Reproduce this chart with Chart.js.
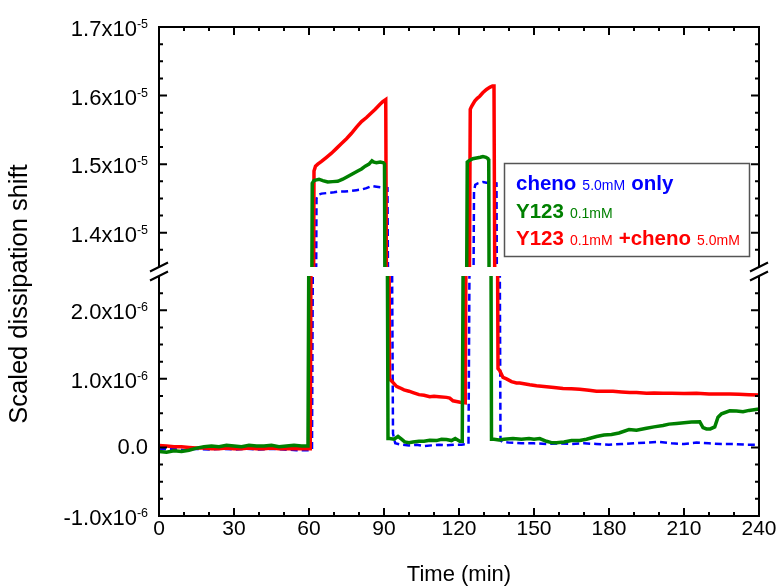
<!DOCTYPE html>
<html>
<head>
<meta charset="utf-8">
<script src="https://cdn.jsdelivr.net/npm/chart.js@4.4.1/dist/chart.umd.min.js"></script>
<style>
  html, body { margin: 0; background: #fff; }
</style>
</head>
<body>
<canvas id="qcm" width="781" height="588"></canvas>
<script>
// time in minutes, dissipation shift in units of 1e-6
const timeCheno = [0,5,10,15,20,25,30,35,40,45,50,55,60,61.2,
  63.0,63.6,65,67.6,70,72,74.3,77,79,81,83,85,87,89,91.4,
  93.6,94.5,97,100,103,106,109,112,115,118,121,123.8,
  126.0,126.5,127.5,129.6,131,133,135,
  136.6,137.5,140,145,150,155,160,165,170,175,180,185,190,195,200,205,210,215,220,225,230,235,240];
const shiftCheno = [-0.03,-0.02,-0.04,-0.02,-0.03,-0.02,-0.03,-0.02,-0.03,-0.02,-0.03,-0.04,-0.04,-0.03,
  14.50,14.55,14.57,14.58,14.59,14.60,14.60,14.61,14.62,14.63,14.65,14.68,14.67,14.66,14.65,
  0.20,0.06,0.04,0.03,0.04,0.02,0.03,0.04,0.03,0.04,0.04,0.05,
  14.60,14.70,14.72,14.74,14.73,14.73,14.72,
  0.10,0.08,0.07,0.06,0.06,0.05,0.06,0.05,0.06,0.05,0.04,0.05,0.06,0.07,0.08,0.06,0.05,0.07,0.06,0.05,0.05,0.04,0.04];

const timeY123 = [0,3,6,9,12,15,18,21,24,27,30,33,36,39,42,45,48,51,54,57,59.6,
  61.3,62,63,64,65.5,67.5,69.5,71.5,73.5,75.5,77.5,79.5,81,82.5,84,85.2,86,87,88.5,89.8,90.2,
  91.6,92.3,94,95.6,97,98.3,100,101.6,104,106,108.3,111,113,115,117,118.5,120.3,121.3,
  123.3,124,125.5,127,128.5,129.6,130.8,131.6,131.9,
  133,134,136,138,141.6,145,148,150,152.3,155,157,159,162,165,168.3,171,175,178,181,184,188,191,195,198,
  201.6,204,207,210,213,216.3,217.6,219,220.5,222.3,223.6,225,228.3,231,233.6,236,238,240];
const shiftY123 = [-0.06,-0.07,-0.05,-0.06,-0.04,-0.01,0.01,0.02,0.01,0.03,0.02,0.01,0.03,0.02,0.02,0.03,0.01,0.02,0.03,0.02,0.02,
  14.72,14.76,14.77,14.78,14.76,14.74,14.745,14.75,14.78,14.82,14.86,14.90,14.93,14.97,15.00,15.05,15.03,15.02,15.03,15.02,15.00,
  0.13,0.13,0.12,0.16,0.12,0.08,0.07,0.08,0.09,0.09,0.105,0.10,0.12,0.115,0.10,0.13,0.09,0.09,
  15.03,15.05,15.08,15.09,15.10,15.11,15.10,15.08,15.05,
  0.12,0.12,0.11,0.12,0.13,0.12,0.13,0.12,0.13,0.09,0.07,0.067,0.08,0.10,0.10,0.12,0.16,0.18,0.19,0.21,0.26,0.25,0.28,0.30,
  0.32,0.34,0.35,0.36,0.37,0.375,0.29,0.27,0.27,0.30,0.44,0.49,0.535,0.53,0.52,0.54,0.55,0.56];

const timeMix = [0,3,6,9,12,15,18,21,24,27,30,33,36,39,42,45,48,51,54,57,60.5,
  62.0,62.6,63.5,65,67,69,71,73,75,77,79,81,83,85,86.5,88.3,89.5,90.7,
  92.2,93,94,95,96.3,98,100,101.6,104,106,108.3,110,112,115,116.3,117.6,119,120.5,122.5,
  124.5,125,126.3,127.3,128.3,129.5,131,132.3,133.4,134,
  135.6,136.3,137.6,139,141,143,144.3,146,148.3,151,155,158,161.6,165,168.3,172,175,178,181.6,185,188.3,
  191,195,198,201.6,205,210,215,220,225,228.3,232,236,240];
const shiftMix = [0.03,0.02,0.01,0.01,0.0,-0.01,-0.01,-0.02,-0.02,-0.01,-0.02,-0.02,-0.01,-0.02,-0.02,-0.01,-0.02,-0.02,-0.02,-0.02,-0.02,
  14.90,14.97,15.00,15.04,15.10,15.16,15.23,15.30,15.37,15.45,15.54,15.62,15.68,15.75,15.80,15.87,15.91,15.94,
  1.00,0.97,0.93,0.89,0.87,0.84,0.82,0.80,0.77,0.76,0.74,0.745,0.74,0.73,0.72,0.68,0.67,0.66,0.65,
  15.80,15.84,15.92,15.96,15.99,16.04,16.09,16.12,16.14,16.14,
  1.15,1.12,1.02,1.00,0.96,0.94,0.94,0.93,0.915,0.90,0.885,0.875,0.86,0.855,0.85,0.835,0.82,0.82,0.82,0.81,0.80,
  0.80,0.79,0.795,0.79,0.79,0.785,0.79,0.78,0.78,0.78,0.775,0.77,0.765];

// labelled ticks; minor ticks fall in between
const xTickValues = [0, 30, 60, 90, 120, 150, 180, 210, 240];
const yHiTickValues = [14, 15, 16, 17];
const yLoTickValues = [-1, 0, 1, 2];
const hiRange = [13.5, 17];
const loRange = [-1, 2.5];

const BLUE = '#0000ff', GREEN = '#008000', RED = '#ff0000';
const FAMILY = '"Liberation Sans", Arial, Helvetica, sans-serif';
const font = (size, bold) => (bold ? 'bold ' : '') + size + 'px ' + FAMILY;

const legendRows = [
  { color: BLUE,  parts: [['cheno', true], ['5.0mM', false], ['only', true]] },
  { color: GREEN, parts: [['Y123', true], ['0.1mM', false]] },
  { color: RED,   parts: [['Y123', true], ['0.1mM', false], ['+cheno', true], ['5.0mM', false]] }
];

const toPoints = (ts, vs) => ts.map((t, i) => ({ x: t, y: vs[i] }));

// every run is plotted twice: once against the upper range, once against the lower
function series(label, ts, vs, color, width, dash) {
  return ['yHi', 'yLo'].map(axis => ({
    label,
    data: toPoints(ts, vs),
    yAxisID: axis,
    borderColor: color,
    borderWidth: width,
    borderDash: dash || [],
    pointRadius: 0,
    tension: 0,
    fill: false
  }));
}

const brokenAxis = {
  id: 'brokenAxis',
  beforeDatasetDraw(chart, args) {
    const { ctx, chartArea } = chart;
    const ys = args.meta.yScale;
    ctx.save();
    ctx.beginPath();
    ctx.rect(chartArea.left, ys.top, chartArea.right - chartArea.left, ys.bottom - ys.top);
    ctx.clip();
  },
  afterDatasetDraw(chart) {
    chart.ctx.restore();
  },
  afterDraw(chart) {
    const { ctx, chartArea: a, scales } = chart;
    const hi = scales.yHi, lo = scales.yLo, xs = scales.x;
    ctx.save();
    ctx.strokeStyle = '#000';
    ctx.lineWidth = 2;
    ctx.lineCap = 'butt';

    // frame, open between the two ranges
    ctx.beginPath();
    ctx.moveTo(a.left, hi.bottom); ctx.lineTo(a.left, a.top);
    ctx.lineTo(a.right, a.top); ctx.lineTo(a.right, hi.bottom);
    ctx.moveTo(a.left, lo.top); ctx.lineTo(a.left, a.bottom);
    ctx.lineTo(a.right, a.bottom); ctx.lineTo(a.right, lo.top);
    ctx.stroke();

    // inward tick marks on all four sides
    ctx.beginPath();
    xs.ticks.forEach(t => {
      const px = xs.getPixelForValue(t.value);
      const len = xTickValues.includes(t.value) ? 8 : 4;
      ctx.moveTo(px, a.bottom); ctx.lineTo(px, a.bottom - len);
      ctx.moveTo(px, a.top); ctx.lineTo(px, a.top + len);
    });
    [[hi, yHiTickValues, hiRange[0]], [lo, yLoTickValues, loRange[1]]].forEach(([s, majors, cut]) => {
      s.ticks.forEach(t => {
        if (t.value === cut) return;
        const py = s.getPixelForValue(t.value);
        const len = majors.includes(t.value) ? 8 : 4;
        ctx.moveTo(a.left, py); ctx.lineTo(a.left + len, py);
        ctx.moveTo(a.right, py); ctx.lineTo(a.right - len, py);
      });
    });
    ctx.stroke();

    // break marks
    ctx.beginPath();
    [a.left, a.right].forEach(x0 => {
      [hi.bottom, lo.top].forEach(y0 => {
        ctx.moveTo(x0 - 9, y0 + 4.5);
        ctx.lineTo(x0 + 9, y0 - 4.5);
      });
    });
    ctx.stroke();

    // y tick labels with superscript exponents
    ctx.fillStyle = '#000';
    ctx.textBaseline = 'alphabetic';
    const right = a.left - 11;
    const yLabel = (v, py) => {
      if (v === 0) {
        ctx.font = font(22);
        ctx.textAlign = 'right';
        ctx.fillText('0.0', right, py + 7);
        return;
      }
      const exp = Math.abs(v) >= 10 ? -5 : -6;
      const mant = (v * Math.pow(10, -6 - exp)).toFixed(1) + 'x10';
      const sup = String(exp);
      ctx.font = font(12.5);
      const sw = ctx.measureText(sup).width;
      ctx.textAlign = 'left';
      ctx.fillText(sup, right - sw, py + 1);
      ctx.font = font(22);
      ctx.textAlign = 'right';
      ctx.fillText(mant, right - sw, py + 9);
    };
    yHiTickValues.forEach(v => yLabel(v, hi.getPixelForValue(v)));
    yLoTickValues.forEach(v => yLabel(v, lo.getPixelForValue(v)));

    // y axis title
    ctx.save();
    ctx.translate(20, 294);
    ctx.rotate(-Math.PI / 2);
    ctx.font = font(25.5);
    ctx.textAlign = 'center';
    ctx.textBaseline = 'middle';
    ctx.fillText('Scaled dissipation shift', 0, 0);
    ctx.restore();

    // legend box
    ctx.fillStyle = '#fff';
    ctx.fillRect(504, 163, 246, 94);
    ctx.strokeStyle = '#555';
    ctx.lineWidth = 1.5;
    ctx.strokeRect(504.5, 163.5, 245, 93);
    ctx.textAlign = 'left';
    legendRows.forEach((row, i) => {
      let x = 516;
      const y = 190 + i * 27.5;
      ctx.fillStyle = row.color;
      row.parts.forEach(([txt, bold]) => {
        ctx.font = bold ? font(20.5, true) : font(14);
        ctx.fillText(txt, x, y);
        x += ctx.measureText(txt).width + 6;
      });
    });
    ctx.restore();
  }
};

const sideY = (extra) => Object.assign({
  type: 'linear',
  position: 'left',
  stack: 'qcm',
  afterFit: s => { s.width = 159; },
  grid: { display: false, drawTicks: false },
  border: { display: false },
  ticks: { display: false }
}, extra);

new Chart(document.getElementById('qcm'), {
  type: 'line',
  data: {
    datasets: [
      ...series('Y123 0.1mM', timeY123, shiftY123, GREEN, 3.5),
      ...series('Y123 0.1mM +cheno 5.0mM', timeMix, shiftMix, RED, 3.5),
      ...series('cheno 5.0mM only', timeCheno, shiftCheno, BLUE, 2.5, [7, 4])
    ]
  },
  options: {
    responsive: false,
    animation: false,
    devicePixelRatio: 1,
    layout: { padding: { left: 0, top: 27, right: 22, bottom: 0 } },
    plugins: { legend: { display: false }, tooltip: { enabled: false } },
    scales: {
      x: {
        type: 'linear',
        min: 0,
        max: 240,
        afterFit: s => { s.height = 72; },
        grid: { display: false, drawTicks: false },
        border: { display: false },
        ticks: {
          stepSize: 10,
          autoSkip: false,
          maxRotation: 0,
          padding: 1,
          color: '#000',
          font: { family: FAMILY, size: 21 },
          callback: v => xTickValues.includes(v) ? String(v) : ''
        },
        title: {
          display: true,
          text: 'Time (min)',
          color: '#000',
          font: { family: FAMILY, size: 22 },
          padding: { top: 0, bottom: 0 }
        }
      },
      yHi: sideY({ weight: 3, stackWeight: 240, min: hiRange[0], max: hiRange[1], ticks: { display: false, stepSize: 0.25 } }),
      yGap: sideY({ weight: 2, stackWeight: 9, min: 0, max: 1 }),
      yLo: sideY({ weight: 1, stackWeight: 240, min: loRange[0], max: loRange[1], ticks: { display: false, stepSize: 0.25 } })
    }
  },
  plugins: [brokenAxis]
});
</script>
</body>
</html>
